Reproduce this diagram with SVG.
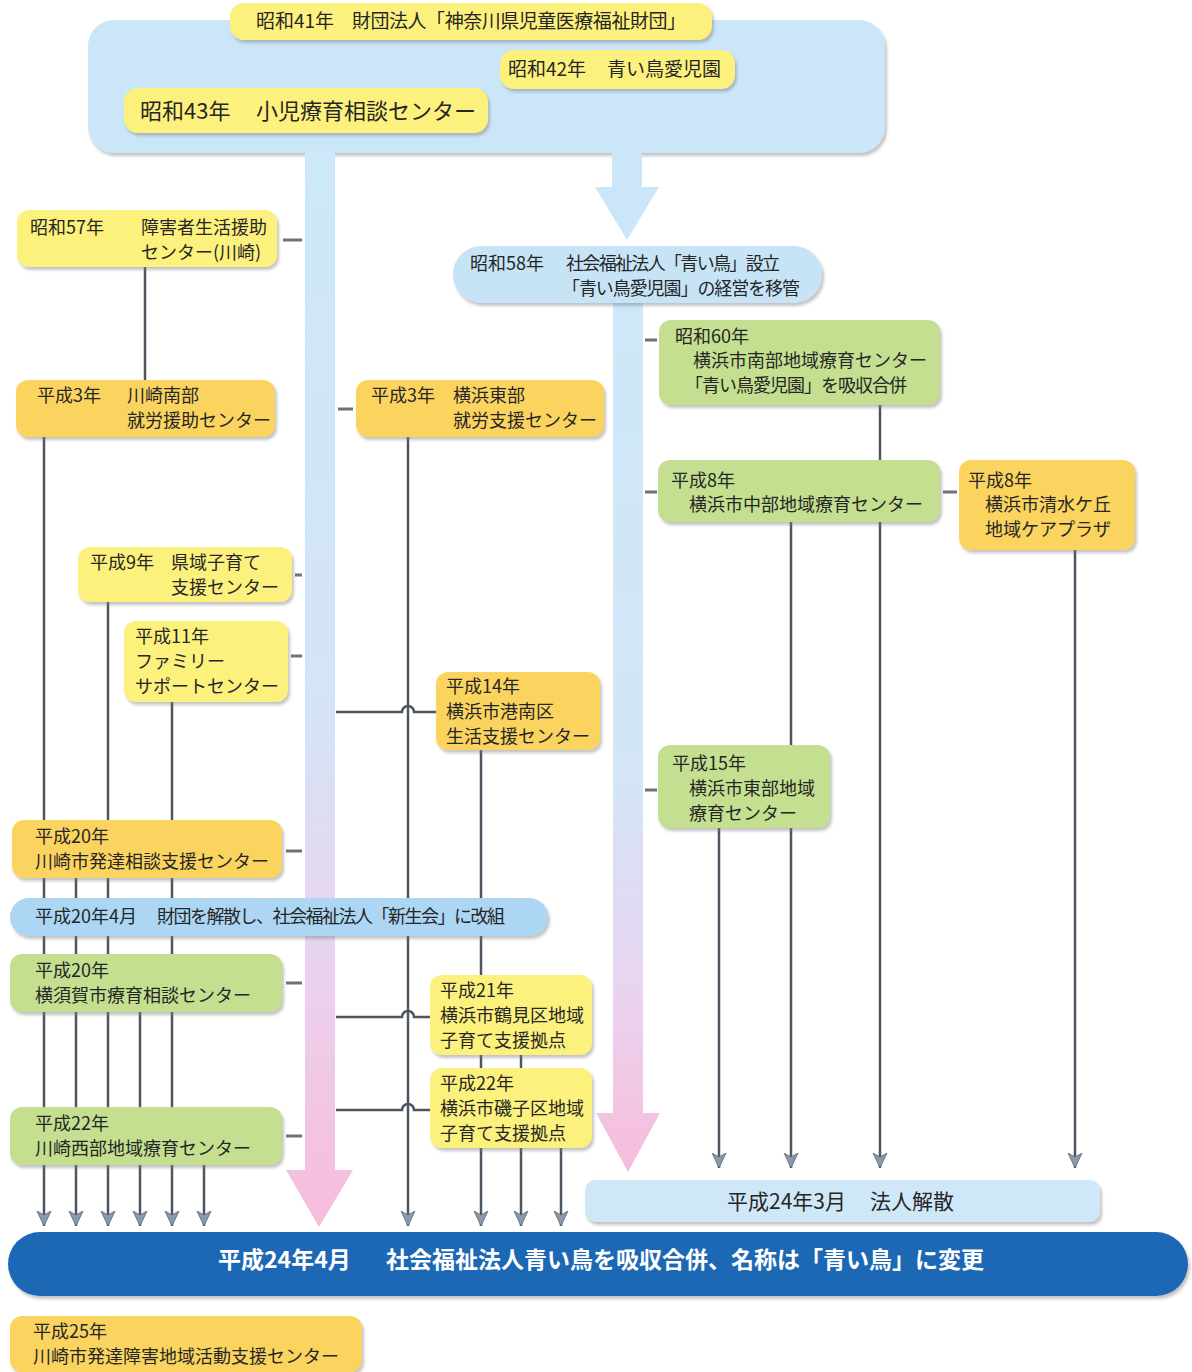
<svg xmlns="http://www.w3.org/2000/svg" width="1192" height="1372" viewBox="0 0 1192 1372">
<style>
.y{fill:#fcf17b}
.o{fill:#fbd45e}
.g{fill:#c3df8f}
.b{fill:#c7e4f7}
.t{font-family:"Noto Sans CJK JP","Noto Sans",sans-serif;font-size:18px;fill:#262626}
.ln{stroke:#4d5561;stroke-width:2.5;fill:none}
.ar{stroke:#4d5561;stroke-width:2.5;fill:none;marker-end:url(#ah)}
.tk{stroke:#6b727d;stroke-width:3;fill:none}
.sh{filter:url(#ds)}
</style>
<defs>
<filter id="ds" x="-5%" y="-10%" width="110%" height="130%">
<feDropShadow dx="2" dy="3" stdDeviation="1.5" flood-color="#7d7d7d" flood-opacity="0.45"/>
</filter>
<marker id="ah" markerUnits="userSpaceOnUse" markerWidth="16" markerHeight="16" viewBox="0 -8 16 16" refX="15" refY="0" orient="auto">
<path d="M0,-7 L15,0 L0,7 L4,0 Z" fill="#8a9aae" stroke="#5a6470" stroke-width="0.8"/>
</marker>
<linearGradient id="gl" x1="0" y1="0" x2="0" y2="1">
<stop offset="0" stop-color="#cde8f8"/>
<stop offset="0.5" stop-color="#d3e5f7"/>
<stop offset="0.75" stop-color="#ead3ef"/>
<stop offset="1" stop-color="#f7bcdb"/>
</linearGradient>
<linearGradient id="gr" x1="0" y1="0" x2="0" y2="1">
<stop offset="0" stop-color="#cde8f8"/>
<stop offset="0.55" stop-color="#d3e5f7"/>
<stop offset="0.8" stop-color="#ead3ef"/>
<stop offset="1" stop-color="#f7bcdb"/>
</linearGradient>
</defs>
<rect width="1192" height="1372" fill="#ffffff"/>

<g id="top-frame">
<rect x="88" y="20" width="797" height="133" rx="26" fill="#cbe6f8" class="sh"/>
</g>

<g id="flows">
<path d="M305,150 H335 V1170 H353 L319,1227 L286,1170 H305 Z" fill="url(#gl)"/>
<path d="M613,300 H643 V1113 H660 L628,1172 L596,1113 H613 Z" fill="url(#gr)"/>
<path d="M612,150 H642 V187 H659 L627,240 L595,187 H612 Z" fill="#cbe6f8"/>
</g>

<g id="connectors">
<path class="tk" d="M283,240 H302"/>
<path class="tk" d="M338,409 H353"/>
<path class="tk" d="M295,575 H302"/>
<path class="tk" d="M291,656 H302"/>
<path class="tk" d="M286,851 H302"/>
<path class="tk" d="M286,983 H302"/>
<path class="tk" d="M286,1136 H302"/>
<path class="tk" d="M645,340 H657"/>
<path class="tk" d="M645,492 H657"/>
<path class="tk" d="M943,492 H957"/>
<path class="tk" d="M645,790 H657"/>
<path class="ln" d="M336,712 H402 A6,6 0 0 1 414,712 H436"/>
<path class="ln" d="M336,1017 H402 A6,6 0 0 1 414,1017 H430"/>
<path class="ln" d="M336,1110 H402 A6,6 0 0 1 414,1110 H430"/>
<path class="ln" d="M145,267 V380"/>
<path class="ar" d="M44,437 V1226"/>
<path class="ar" d="M108,602 V1226"/>
<path class="ar" d="M172,702 V1226"/>
<path class="ar" d="M76,878 V1226"/>
<path class="ar" d="M140,1012 V1226"/>
<path class="ar" d="M204,1165 V1226"/>
<path class="ar" d="M408,437 V1226"/>
<path class="ar" d="M481,750 V1226"/>
<path class="ar" d="M521,1055 V1226"/>
<path class="ar" d="M561,1148 V1226"/>
<path class="ar" d="M880,405 V1168"/>
<path class="ar" d="M791,522 V1168"/>
<path class="ar" d="M719,828 V1168"/>
<path class="ar" d="M1075,550 V1168"/>
</g>

<g id="n-s41">
<rect x="230" y="3" width="482" height="37" rx="14" class="y sh"/>
<text class="t" style="font-size:19px" y="28"><tspan x="256">昭和41年</tspan><tspan x="352" textLength="334" lengthAdjust="spacing">財団法人「神奈川県児童医療福祉財団」</tspan></text>
</g>
<g id="n-s42">
<rect x="500" y="50" width="235" height="39" rx="14" class="y sh"/>
<text class="t" style="font-size:19px" y="76"><tspan x="508">昭和42年</tspan><tspan x="607">青い鳥愛児園</tspan></text>
</g>
<g id="n-s43">
<rect x="124" y="88" width="364" height="45" rx="14" class="y sh"/>
<text class="t" style="font-size:22px" y="119"><tspan x="140">昭和43年</tspan><tspan x="256">小児療育相談センター</tspan></text>
</g>

<g id="n-s57">
<rect x="17" y="210" width="260" height="57" rx="12" class="y sh"/>
<text class="t" y="234"><tspan x="30">昭和57年</tspan><tspan x="141">障害者生活援助</tspan></text>
<text class="t" x="141" y="259">センター(川崎)</text>
</g>
<g id="n-s58">
<rect x="453" y="246" width="369" height="57" rx="28" class="b sh"/>
<text class="t" y="270"><tspan x="470">昭和58年</tspan><tspan x="566" textLength="214" lengthAdjust="spacing">社会福祉法人「青い鳥」設立</tspan></text>
<text class="t" x="562" y="295" textLength="238" lengthAdjust="spacing">「青い鳥愛児園」の経営を移管</text>
</g>
<g id="n-s60">
<rect x="659" y="320" width="281" height="85" rx="12" class="g sh"/>
<text class="t" x="675" y="343">昭和60年</text>
<text class="t" x="693" y="367">横浜市南部地域療育センター</text>
<text class="t" x="685" y="392" textLength="222" lengthAdjust="spacing">「青い鳥愛児園」を吸収合併</text>
</g>

<g id="n-h3k">
<rect x="16" y="380" width="259" height="57" rx="12" class="o sh"/>
<text class="t" y="402"><tspan x="37">平成3年</tspan><tspan x="127">川崎南部</tspan></text>
<text class="t" x="127" y="427">就労援助センター</text>
</g>
<g id="n-h3y">
<rect x="356" y="380" width="248" height="57" rx="12" class="o sh"/>
<text class="t" y="402"><tspan x="371">平成3年</tspan><tspan x="453">横浜東部</tspan></text>
<text class="t" x="453" y="427">就労支援センター</text>
</g>
<g id="n-h8c">
<rect x="658" y="460" width="282" height="62" rx="12" class="g sh"/>
<text class="t" x="671" y="487">平成8年</text>
<text class="t" x="689" y="511">横浜市中部地域療育センター</text>
</g>
<g id="n-h8s">
<rect x="959" y="460" width="176" height="90" rx="12" class="o sh"/>
<text class="t" x="968" y="487">平成8年</text>
<text class="t" x="985" y="511">横浜市清水ケ丘</text>
<text class="t" x="985" y="536">地域ケアプラザ</text>
</g>
<g id="n-h9">
<rect x="78" y="547" width="214" height="55" rx="12" class="y sh"/>
<text class="t" y="569"><tspan x="90">平成9年</tspan><tspan x="171">県域子育て</tspan></text>
<text class="t" x="171" y="594">支援センター</text>
</g>
<g id="n-h11">
<rect x="124" y="621" width="164" height="81" rx="12" class="y sh"/>
<text class="t" x="135" y="643">平成11年</text>
<text class="t" x="135" y="668">ファミリー</text>
<text class="t" x="135" y="693">サポートセンター</text>
</g>
<g id="n-h14">
<rect x="436" y="672" width="164" height="78" rx="12" class="o sh"/>
<text class="t" x="446" y="693">平成14年</text>
<text class="t" x="446" y="718">横浜市港南区</text>
<text class="t" x="446" y="743">生活支援センター</text>
</g>
<g id="n-h15">
<rect x="658" y="745" width="172" height="83" rx="12" class="g sh"/>
<text class="t" x="672" y="770">平成15年</text>
<text class="t" x="689" y="795">横浜市東部地域</text>
<text class="t" x="689" y="820">療育センター</text>
</g>
<g id="n-h20k">
<rect x="12" y="820" width="270" height="58" rx="12" class="o sh"/>
<text class="t" x="35" y="843">平成20年</text>
<text class="t" x="35" y="868">川崎市発達相談支援センター</text>
</g>
<g id="n-h20r">
<rect x="10" y="898" width="538" height="38" rx="19" fill="#acd6f3" class="sh"/>
<text class="t" y="923"><tspan x="35">平成20年4月</tspan><tspan x="157" textLength="348" lengthAdjust="spacing">財団を解散し、社会福祉法人「新生会」に改組</tspan></text>
</g>
<g id="n-h20y">
<rect x="10" y="954" width="272" height="58" rx="12" class="g sh"/>
<text class="t" x="35" y="977">平成20年</text>
<text class="t" x="35" y="1002">横須賀市療育相談センター</text>
</g>
<g id="n-h21">
<rect x="430" y="975" width="162" height="80" rx="12" class="y sh"/>
<text class="t" x="440" y="997">平成21年</text>
<text class="t" x="440" y="1022">横浜市鶴見区地域</text>
<text class="t" x="440" y="1047">子育て支援拠点</text>
</g>
<g id="n-h22i">
<rect x="430" y="1068" width="162" height="80" rx="12" class="y sh"/>
<text class="t" x="440" y="1090">平成22年</text>
<text class="t" x="440" y="1115">横浜市磯子区地域</text>
<text class="t" x="440" y="1140">子育て支援拠点</text>
</g>
<g id="n-h22k">
<rect x="10" y="1107" width="272" height="58" rx="12" class="g sh"/>
<text class="t" x="35" y="1130">平成22年</text>
<text class="t" x="35" y="1155">川崎西部地域療育センター</text>
</g>
<g id="n-h24m">
<rect x="585" y="1180" width="515" height="42" rx="10" fill="#cfe8f8" class="sh"/>
<text class="t" style="font-size:21px" y="1209"><tspan x="727">平成24年3月</tspan><tspan x="870">法人解散</tspan></text>
</g>
<g id="n-h24a">
<rect x="8" y="1232" width="1180" height="64" rx="32" fill="#1c68b5" class="sh"/>
<text class="t" style="font-size:23px;font-weight:bold;fill:#ffffff" y="1268"><tspan x="218">平成24年4月</tspan><tspan x="386">社会福祉法人青い鳥を吸収合併、名称は「青い鳥」に変更</tspan></text>
</g>
<g id="n-h25">
<rect x="10" y="1316" width="352" height="56" rx="12" class="o sh"/>
<text class="t" x="33" y="1338">平成25年</text>
<text class="t" x="33" y="1363">川崎市発達障害地域活動支援センター</text>
</g>
</svg>
